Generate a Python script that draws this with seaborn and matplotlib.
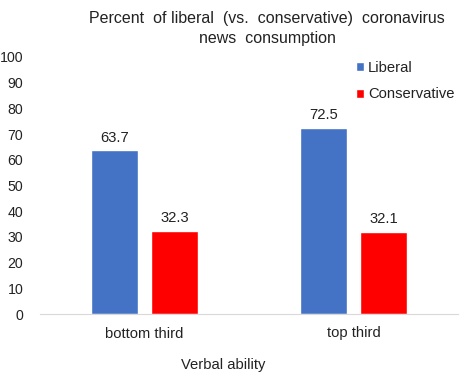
import pandas as pd
import matplotlib.pyplot as plt
import seaborn as sns

categories = ["bottom third", "top third"]
series_names = ["Liberal", "Conservative"]
liberal = [63.7, 72.5]
conservative = [32.3, 32.1]
colors = ["#4472C4", "#FF0000"]

df = pd.DataFrame({
    "group": categories * 2,
    "series": [series_names[0]] * 2 + [series_names[1]] * 2,
    "value": liberal + conservative,
})

sns.set_style("white")
plt.rcParams["font.family"] = ["Liberation Sans", "DejaVu Sans"]

fs = 10.6
fig = plt.figure(figsize=(4.77, 3.78), dpi=100)
ax = fig.add_axes([40 / 477, 1 - 314 / 378, 418 / 477, 257 / 378])

sns.barplot(data=df, x="group", y="value", hue="series", palette=colors,
            width=0.574, gap=0.217, saturation=1, ax=ax)

for cont in ax.containers:
    ax.bar_label(cont, fmt="%.1f", padding=4, fontsize=fs, color="#222222")

ax.set_ylim(0, 100)
ax.set_yticks(range(0, 101, 10))
ax.set_xlim(-0.5, 1.5)
ax.tick_params(axis="both", length=0, labelsize=fs, colors="#222222")
ax.tick_params(axis="y", labelsize=10.2, pad=12)
ax.tick_params(axis="x", pad=9)
for s in ["top", "right", "left"]:
    ax.spines[s].set_visible(False)
ax.spines["bottom"].set_color("#d9d9d9")
ax.set_xlabel("")
ax.set_ylabel("")

leg = ax.legend(loc="upper left", bbox_to_anchor=(0.755, 0.985), frameon=False,
                fontsize=fs, handlelength=0.55, handleheight=0.55,
                handletextpad=0.3, labelspacing=0.85, borderpad=0,
                borderaxespad=0)
for t in leg.get_texts():
    t.set_color("#222222")

fig.text(267 / 477, 1 - 11 / 378, "Percent  of liberal  (vs.  conservative)  coronavirus\nnews  consumption",
         ha="center", va="top", fontsize=11.5, color="#222222", linespacing=1.45)
fig.text(223 / 477, 1 - 365 / 378, "Verbal ability", ha="center", va="center",
         fontsize=fs, color="#222222")

fig.savefig("out.png", dpi=100)
